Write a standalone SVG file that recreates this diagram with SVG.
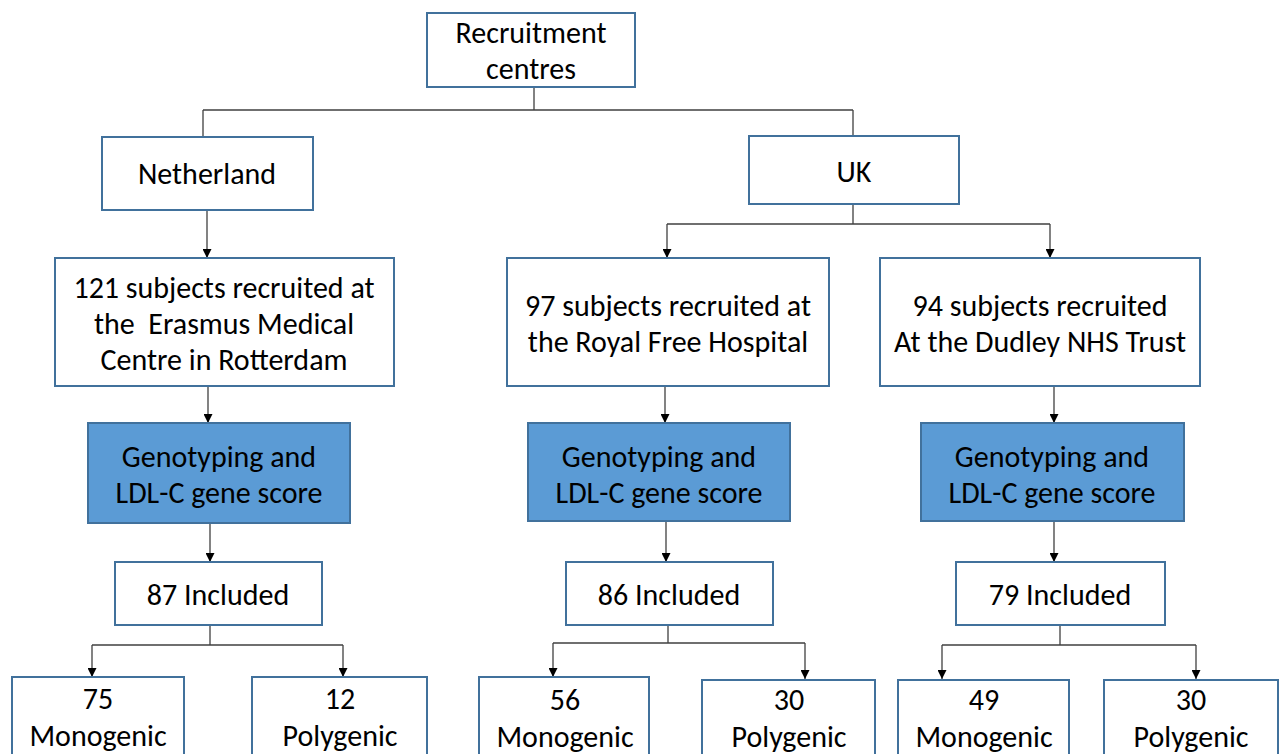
<svg xmlns="http://www.w3.org/2000/svg" width="1286" height="754" viewBox="0 0 1286 754">
<style>
.box{fill:#fff;stroke:#41719C;stroke-width:2}
.blue{fill:#5B9BD5;stroke:#41719C;stroke-width:2}
.t{font-family:Carlito,Lato,"Liberation Sans",sans-serif;font-size:30px;fill:#000;text-anchor:middle;dominant-baseline:central}
.c{fill:none;stroke:#404040;stroke-width:1.3}
</style>
<defs>
<marker id="ah" viewBox="0 0 10 10" refX="10" refY="5" markerWidth="9" markerHeight="9" markerUnits="userSpaceOnUse" orient="auto">
<path d="M0,0 L10,5 L0,10 z" fill="#000"/>
</marker>
</defs>
<rect width="1286" height="754" fill="#fff"/>
<g id="connectors">
<path class="c" d="M534,87 V110 M203,110 H853 M203,110 V136 M853,110 V136"/>
<path class="c" d="M207,210 V258" marker-end="url(#ah)"/>
<path class="c" d="M853,204 V224 M667,224 H1050"/>
<path class="c" d="M667,224 V258" marker-end="url(#ah)"/>
<path class="c" d="M1050,224 V258" marker-end="url(#ah)"/>
<path class="c" d="M208,386 V423" marker-end="url(#ah)"/>
<path class="c" d="M665,386 V423" marker-end="url(#ah)"/>
<path class="c" d="M1054,386 V423" marker-end="url(#ah)"/>
<path class="c" d="M210,523 V562" marker-end="url(#ah)"/>
<path class="c" d="M666,521 V562" marker-end="url(#ah)"/>
<path class="c" d="M1054,521 V562" marker-end="url(#ah)"/>
<path class="c" d="M210,625 V645 M92,645 H343"/>
<path class="c" d="M92,645 V677" marker-end="url(#ah)"/>
<path class="c" d="M343,645 V677" marker-end="url(#ah)"/>
<path class="c" d="M668,625 V643 M553,643 H805"/>
<path class="c" d="M553,643 V677" marker-end="url(#ah)"/>
<path class="c" d="M805,643 V679" marker-end="url(#ah)"/>
<path class="c" d="M1060,625 V645 M942,645 H1196"/>
<path class="c" d="M942,645 V679" marker-end="url(#ah)"/>
<path class="c" d="M1196,645 V679" marker-end="url(#ah)"/>
</g>
<g id="recruitment"><rect class="box" x="427" y="13" width="208" height="74"/><text class="t" x="531" y="32">Recruitment</text><text class="t" x="531" y="68">centres</text></g>
<g id="netherland"><rect class="box" x="102" y="137" width="211" height="73"/><text class="t" x="207" y="173">Netherland</text></g>
<g id="uk"><rect class="box" x="749" y="136" width="210" height="68"/><text class="t" x="854" y="171">UK</text></g>
<g id="erasmus"><rect class="box" x="55" y="258" width="339" height="128"/><text class="t" x="224" y="287">121 subjects recruited at</text><text class="t" x="224" y="323" xml:space="preserve">the  Erasmus Medical</text><text class="t" x="224" y="359">Centre in Rotterdam</text></g>
<g id="royalfree"><rect class="box" x="507" y="258" width="322" height="128"/><text class="t" x="668" y="305">97 subjects recruited at</text><text class="t" x="668" y="341">the Royal Free Hospital</text></g>
<g id="dudley"><rect class="box" x="880" y="258" width="320" height="128"/><text class="t" x="1040" y="305">94 subjects recruited</text><text class="t" x="1040" y="341">At the Dudley NHS Trust</text></g>
<g id="geno1"><rect class="blue" x="88" y="423" width="262" height="100"/><text class="t" x="219" y="456">Genotyping and</text><text class="t" x="219" y="492">LDL-C gene score</text></g>
<g id="geno2"><rect class="blue" x="528" y="423" width="262" height="98"/><text class="t" x="659" y="456">Genotyping and</text><text class="t" x="659" y="492">LDL-C gene score</text></g>
<g id="geno3"><rect class="blue" x="921" y="423" width="263" height="98"/><text class="t" x="1052" y="456">Genotyping and</text><text class="t" x="1052" y="492">LDL-C gene score</text></g>
<g id="inc1"><rect class="box" x="115" y="562" width="207" height="63"/><text class="t" x="218" y="594">87 Included</text></g>
<g id="inc2"><rect class="box" x="566" y="562" width="207" height="63"/><text class="t" x="669" y="594">86 Included</text></g>
<g id="inc3"><rect class="box" x="956" y="562" width="209" height="63"/><text class="t" x="1060" y="594">79 Included</text></g>
<g id="mono1"><rect class="box" x="12" y="677" width="172" height="90"/><text class="t" x="98" y="698">75</text><text class="t" x="98" y="735">Monogenic</text></g>
<g id="poly1"><rect class="box" x="252" y="677" width="175" height="90"/><text class="t" x="340" y="698">12</text><text class="t" x="340" y="735">Polygenic</text></g>
<g id="mono2"><rect class="box" x="479" y="677" width="170" height="90"/><text class="t" x="565" y="699">56</text><text class="t" x="565" y="736">Monogenic</text></g>
<g id="poly2"><rect class="box" x="702" y="680" width="173" height="90"/><text class="t" x="789" y="699">30</text><text class="t" x="789" y="736">Polygenic</text></g>
<g id="mono3"><rect class="box" x="898" y="680" width="171" height="90"/><text class="t" x="984" y="699">49</text><text class="t" x="984" y="736">Monogenic</text></g>
<g id="poly3"><rect class="box" x="1104" y="680" width="174" height="90"/><text class="t" x="1191" y="699">30</text><text class="t" x="1191" y="736">Polygenic</text></g>
</svg>
